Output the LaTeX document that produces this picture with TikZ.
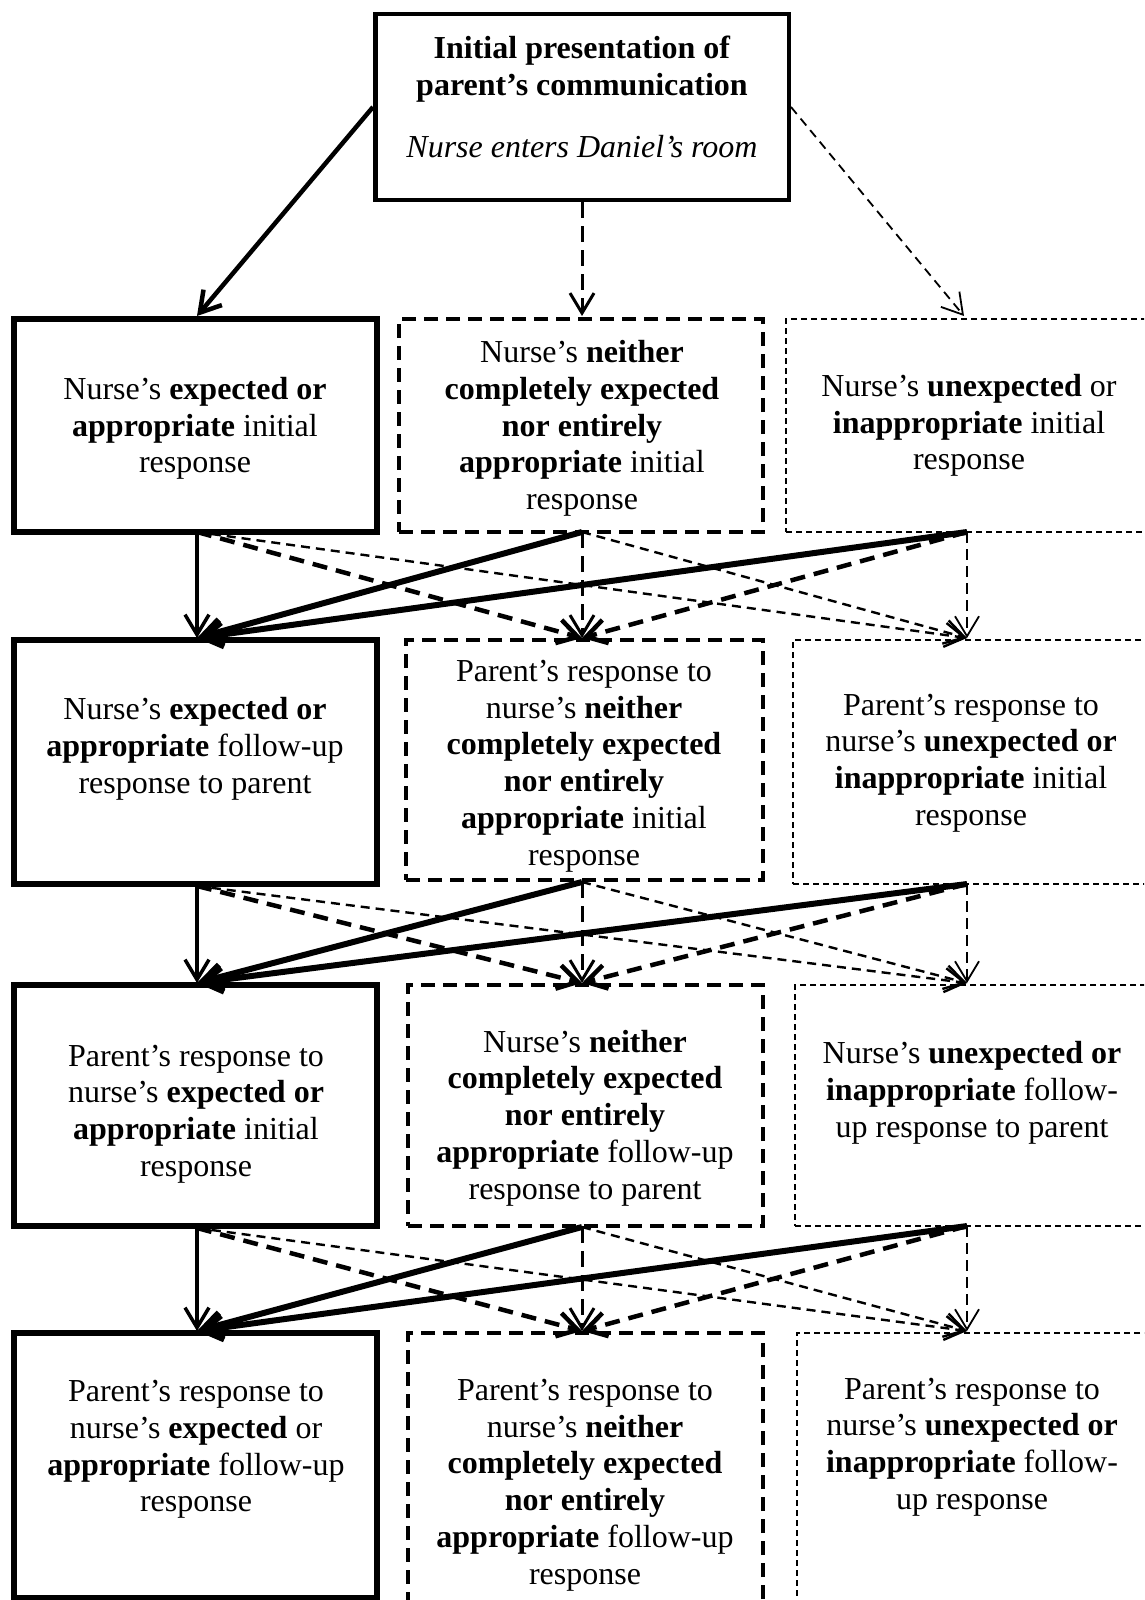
\documentclass[tikz,border=0pt]{standalone}
\usepackage{fontspec}
\setmainfont{Liberation Serif}
\usetikzlibrary{arrows.meta}
\tikzset{
  txt/.style={align=center, font=\fontsize{32}{36.8}\selectfont, inner sep=0pt},
  topbox/.style={draw, line width=4.5pt, inner sep=0pt},
  solidbox/.style={draw, line width=5.5pt, inner sep=0pt},
  dashbox/.style={draw, line width=3.8pt, dash pattern=on 14pt off 8pt, inner sep=0pt},
  thinbox/.style={draw, line width=1.7pt, dash pattern=on 6pt off 4pt, inner sep=0pt},
  tip/.style={-{Straight Barb[length=20pt,width=24pt]}},
  arrTopL/.style={tip, line width=4.5pt},
  arrTopM/.style={tip, line width=3pt, dash pattern=on 16pt off 8pt},
  arrTopR/.style={tip, line width=1.8pt, dash pattern=on 9pt off 6pt},
  arrLL/.style={tip, line width=3.5pt},
  arrToL/.style={tip, line width=6pt},
  arrToM/.style={tip, line width=4.5pt, dash pattern=on 15pt off 9pt},
  arrMM/.style={tip, line width=3pt, dash pattern=on 16pt off 8pt},
  arrToR/.style={tip, line width=2.4pt, dash pattern=on 9pt off 6pt},
  arrRR/.style={tip, line width=1.8pt, dash pattern=on 11pt off 6pt},
}
\newcommand\myfan[6]{%
  \draw[arrToR] (#1) -- (#6);
  \draw[arrToR] (#2) -- (#6);
  \draw[arrRR] (#3) -- (#6);
  \draw[arrToM] (#1) -- (#5);
  \draw[arrToM] (#3) -- (#5);
  \draw[arrMM] (#2) -- (#5);
  \draw[arrLL] (#1) -- (#4);
  \draw[arrToL] (#2) -- (#4);
  \draw[arrToL] (#3) -- (#4);
}
\begin{document}
\begin{tikzpicture}[x=1pt,y=-1pt]
\useasboundingbox (0,0) rectangle (1144,1600);
\clip (0,0) rectangle (1144,1600);

% top box
\node[topbox, minimum width=413.5pt, minimum height=186pt] (top) at (582,107) {};
\node[txt] (toptxt) at (582,97) {\textbf{Initial presentation of}\\\textbf{parent’s communication}\\[25pt]\textit{Nurse enters Daniel’s room}};

% row 1
\node[solidbox, minimum width=363pt, minimum height=213pt] (l1) at (195.5,425.5) {};
\node[dashbox, minimum width=364pt, minimum height=213pt] (m1) at (581,425.5) {};
\node[thinbox, minimum width=374pt, minimum height=213pt] (r1) at (973,425.5) {};
\node[txt] (l1t) at (195,428.5) {Nurse’s \textbf{expected or}\\\textbf{appropriate} initial\\response};
\node[txt] (m1t) at (582,428.5) {Nurse’s \textbf{neither}\\\textbf{completely expected}\\\textbf{nor entirely}\\\textbf{appropriate} initial\\response};
\node[txt] (r1t) at (969,425.5) {Nurse’s \textbf{unexpected} or\\\textbf{inappropriate} initial\\response};

% row 2
\node[solidbox, minimum width=363pt, minimum height=244pt] (l2) at (195.5,762) {};
\node[dashbox, minimum width=357pt, minimum height=240pt] (m2) at (584.5,760) {};
\node[thinbox, minimum width=367pt, minimum height=244pt] (r2) at (976.5,762) {};
\node[txt] (l2t) at (195,749) {Nurse’s \textbf{expected or}\\\textbf{appropriate} follow-up\\response to parent};
\node[txt] (m2t) at (584,766) {Parent’s response to\\nurse’s \textbf{neither}\\\textbf{completely expected}\\\textbf{nor entirely}\\\textbf{appropriate} initial\\response};
\node[txt] (r2t) at (971,763) {Parent’s response to\\nurse’s \textbf{unexpected or}\\\textbf{inappropriate} initial\\response};

% row 3
\node[solidbox, minimum width=363pt, minimum height=241pt] (l3) at (195.5,1105.5) {};
\node[dashbox, minimum width=355pt, minimum height=241pt] (m3) at (585.5,1105.5) {};
\node[thinbox, minimum width=365pt, minimum height=241pt] (r3) at (977.5,1105.5) {};
\node[txt] (l3t) at (196,1114) {Parent’s response to\\nurse’s \textbf{expected or}\\\textbf{appropriate} initial\\response};
\node[txt] (m3t) at (585,1118) {Nurse’s \textbf{neither}\\\textbf{completely expected}\\\textbf{nor entirely}\\\textbf{appropriate} follow-up\\response to parent};
\node[txt] (r3t) at (972,1093) {Nurse’s \textbf{unexpected or}\\\textbf{inappropriate} follow-\\up response to parent};

% row 4
\node[solidbox, minimum width=363pt, minimum height=265pt] (l4) at (195.5,1465.5) {};
\node[dashbox, minimum width=355pt, minimum height=307pt] (m4) at (585.5,1486.5) {};
\node[thinbox, minimum width=363pt, minimum height=307pt] (r4) at (978.5,1486.5) {};
\node[txt] (l4t) at (196,1449.5) {Parent’s response to\\nurse’s \textbf{expected} or\\\textbf{appropriate} follow-up\\response};
\node[txt] (m4t) at (585,1485) {Parent’s response to\\nurse’s \textbf{neither}\\\textbf{completely expected}\\\textbf{nor entirely}\\\textbf{appropriate} follow-up\\response};
\node[txt] (r4t) at (972,1447) {Parent’s response to\\nurse’s \textbf{unexpected or}\\\textbf{inappropriate} follow-\\up response};

% attachment points
\coordinate (L1n) at (197,316);
\coordinate (M1n) at (582,316);
\coordinate (R1n) at (964,316);
\coordinate (L1s) at (197,532);
\coordinate (M1s) at (582,532);
\coordinate (R1s) at (967,532);
\coordinate (L2n) at (197,638);
\coordinate (M2n) at (582,638);
\coordinate (R2n) at (967,638);
\coordinate (L2s) at (197,886);
\coordinate (M2s) at (582,882);
\coordinate (R2s) at (967,884);
\coordinate (L3n) at (197,983);
\coordinate (M3n) at (582,983);
\coordinate (R3n) at (967,983);
\coordinate (L3s) at (197,1228);
\coordinate (M3s) at (582,1227);
\coordinate (R3s) at (967,1226);
\coordinate (L4n) at (197,1331);
\coordinate (M4n) at (582,1331);
\coordinate (R4n) at (967,1331);

% arrows from top
\draw[arrTopL] (top.west) -- (L1n);
\draw[arrTopM] (top.south) -- (M1n);
\draw[arrTopR] (top.east) -- (R1n);

\myfan{L1s}{M1s}{R1s}{L2n}{M2n}{R2n}
\myfan{L2s}{M2s}{R2s}{L3n}{M3n}{R3n}
\myfan{L3s}{M3s}{R3s}{L4n}{M4n}{R4n}
\end{tikzpicture}
\end{document}
